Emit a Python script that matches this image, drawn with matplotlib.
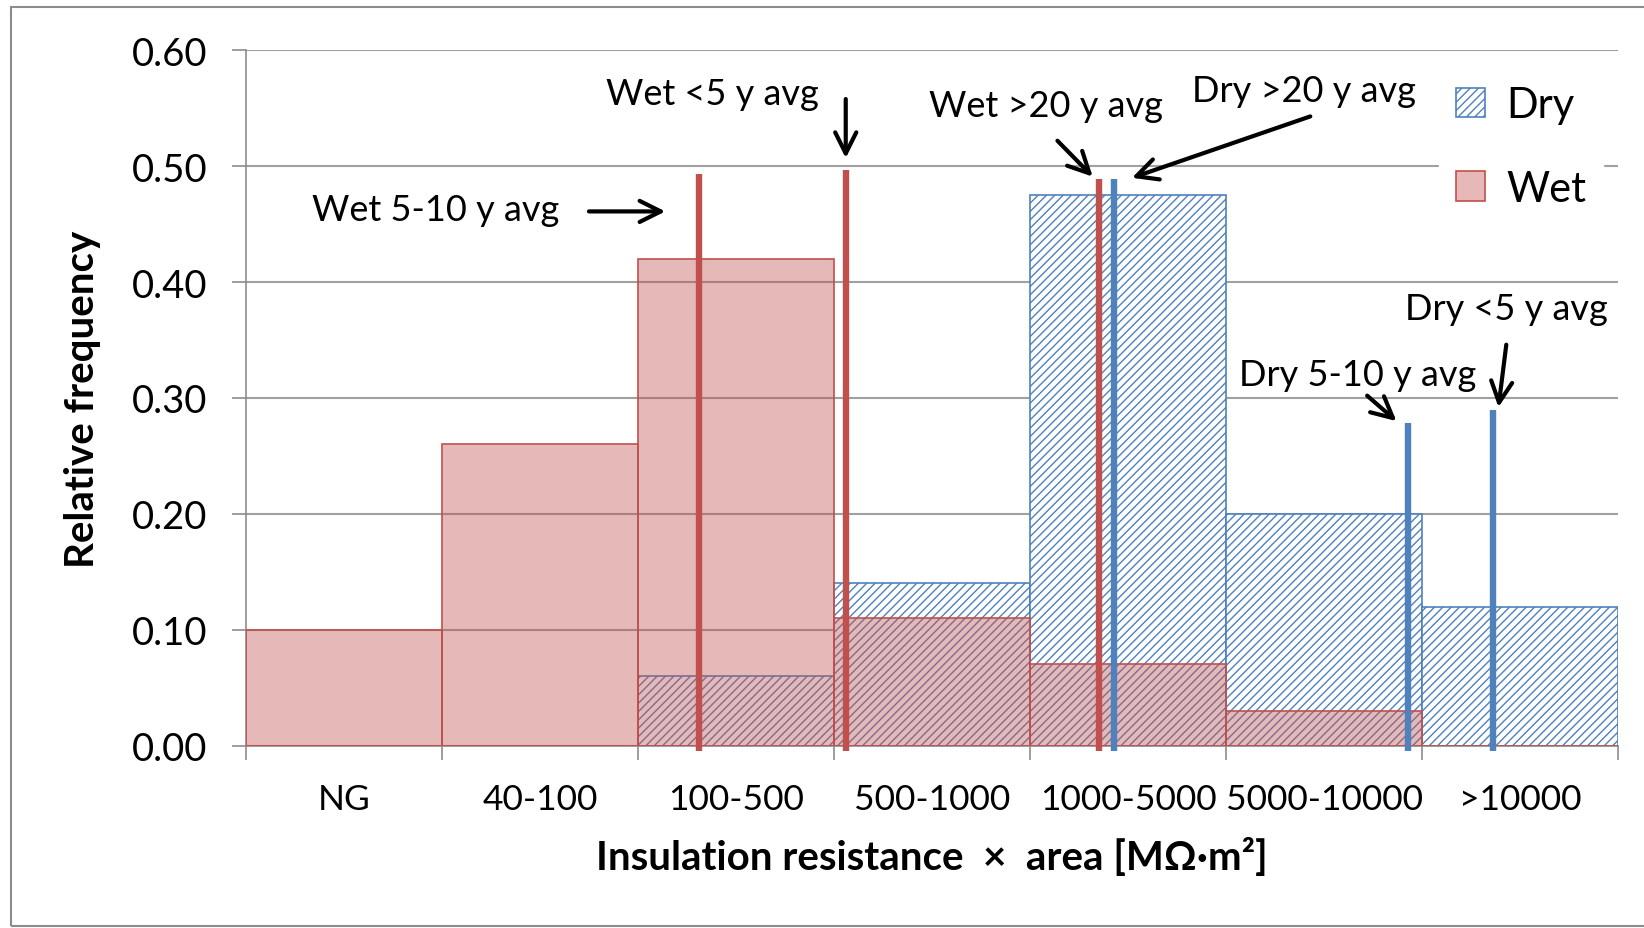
import numpy as np
import matplotlib.pyplot as plt
from matplotlib.patches import Rectangle, Patch

plt.rcParams['font.family'] = ['Lato', 'DejaVu Sans']
plt.rcParams['hatch.linewidth'] = 1.0

# bins of insulation resistance x area
categories = ['NG', '40-100', '100-500', '500-1000', '1000-5000', '5000-10000', '>10000']
dry_freq = [0.0, 0.0, 0.06, 0.14, 0.475, 0.20, 0.12]
wet_freq = [0.10, 0.26, 0.42, 0.11, 0.07, 0.03, 0.0]

# average markers (position in category units, height)
avg_labels = ['Wet 5-10', 'Wet <5', 'Wet >20', 'Dry >20', 'Dry 5-10', 'Dry <5']
avg_x = [2.31, 3.06, 4.35, 4.43, 5.93, 6.36]
avg_h = [0.493, 0.497, 0.489, 0.489, 0.278, 0.290]
avg_kind = ['wet', 'wet', 'wet', 'dry', 'dry', 'dry']

# label text position and arrow (start -> end) in data units
label_xy = [(1.60, 0.463), (2.38, 0.563), (4.08, 0.552), (5.40, 0.565), (5.67, 0.320), (6.43, 0.377)]
label_ha = ['right', 'center', 'center', 'center', 'center', 'center']
arrow_from = [(1.75, 0.461), (3.06, 0.558), (4.14, 0.522), (5.43, 0.543), (5.72, 0.302), (6.43, 0.346)]
arrow_to = [(2.14, 0.461), (3.06, 0.507), (4.32, 0.491), (4.52, 0.490), (5.87, 0.280), (6.39, 0.292)]

RED = '#C0504D'
BLUE = '#4F81BD'

fig = plt.figure(figsize=(16.44, 9.29), dpi=100)
ax = fig.add_axes([0.1496, 0.1964, 0.8346, 0.7483])

x = np.arange(len(categories))
ax.bar(x, dry_freq, width=1.0, align='edge', facecolor='white', edgecolor=BLUE,
       hatch='////', linewidth=1.2, zorder=2)
ax.bar(x, wet_freq, width=1.0, align='edge', color=RED, alpha=0.4, linewidth=0, zorder=3)
ax.bar(x, wet_freq, width=1.0, align='edge', fill=False, edgecolor=RED, linewidth=1.2, zorder=3)

for xi, h, k in zip(avg_x, avg_h, avg_kind):
    ax.plot([xi, xi], [-0.005, h], color=RED if k == 'wet' else BLUE, lw=4.6,
            solid_capstyle='butt', zorder=4, clip_on=False)

for lab, (tx, ty), ha, a0, a1 in zip(avg_labels, label_xy, label_ha, arrow_from, arrow_to):
    ax.text(tx, ty, lab + ' y avg', ha=ha, va='center', fontsize=26, zorder=6)
    ax.annotate('', xy=a1, xytext=a0,
                arrowprops=dict(arrowstyle='->', color='black', lw=3.0, mutation_scale=38,
                                shrinkA=0, shrinkB=0), zorder=6)

ax.set_xlim(0, 7)
ax.set_ylim(0, 0.6)
ax.set_yticks(np.arange(0, 0.61, 0.1))
ax.set_yticklabels([f'{v:.2f}' for v in np.arange(0, 0.61, 0.1)])
ax.set_xticks(np.arange(0, 8))
ax.set_xticklabels([])
ax.set_xticks(x + 0.5, minor=True)
ax.set_xticklabels(categories, minor=True)
ax.tick_params(axis='x', which='minor', length=0, pad=27, labelsize=25.5)
ax.tick_params(axis='x', which='major', length=10, color='#8C8C8C', width=1.2)
ax.tick_params(axis='y', length=10, color='#8C8C8C', width=1.2, labelsize=27.5, pad=18)

ax.yaxis.grid(True, color='#A0A0A0', lw=1.5, zorder=0)
ax.set_axisbelow(True)
for s in ['top', 'right']:
    ax.spines[s].set_visible(False)
for s in ['left', 'bottom']:
    ax.spines[s].set_color('#8C8C8C')
    ax.spines[s].set_linewidth(1.2)

ax.set_ylabel('Relative frequency', fontsize=29, fontweight='bold', labelpad=22)
ax.set_xlabel('Insulation resistance  \u00d7  area [M\u03a9\u00b7m\u00b2]', fontsize=29,
              fontweight='bold', labelpad=16)

handles = [Patch(facecolor='white', edgecolor=BLUE, hatch='////', lw=1.2),
           Patch(facecolor='#E6B9B8', edgecolor=RED, lw=1.2)]
leg = ax.legend(handles, ['Dry', 'Wet'], loc='upper right', bbox_to_anchor=(0.995, 0.985),
                fontsize=30, frameon=True, framealpha=1, edgecolor='white',
                handlelength=0.7, handleheight=0.7, labelspacing=1.1, handletextpad=0.5,
                borderaxespad=0.2)
leg.set_zorder(7)

fig.patches.append(Rectangle((11 / 1644, 0.002), 1.0, 1 - 8 / 929 - 0.002,
                             transform=fig.transFigure, fill=False,
                             edgecolor='#8C8C8C', lw=1.5))

fig.savefig('out.png', dpi=100)
